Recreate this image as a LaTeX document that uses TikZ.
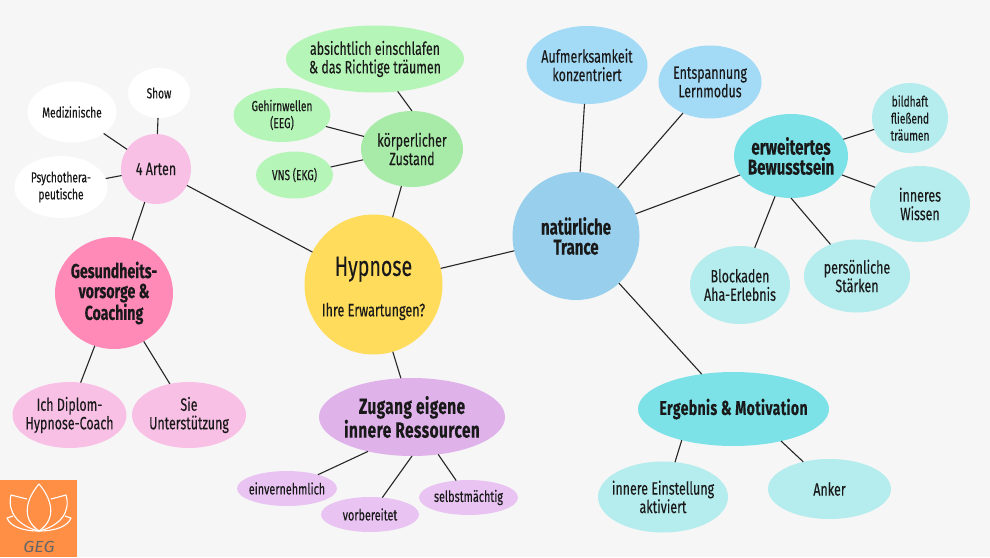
\documentclass[tikz,border=0pt]{standalone}
\usepackage{fontspec}
\setmainfont[FakeStretch=0.7,FakeBold=0.25]{Fira Sans}
\newfontfamily\gegfont[FakeStretch=1.1]{Fira Sans}
\usetikzlibrary{shapes.geometric}
\definecolor{bgc}{HTML}{F6F6F6}
\definecolor{yel}{HTML}{FFDC5C}
\definecolor{tra}{HTML}{97CFEC}
\definecolor{blu}{HTML}{A3DBF7}
\definecolor{tea}{HTML}{7DE2E8}
\definecolor{lte}{HTML}{B5ECEE}
\definecolor{grn}{HTML}{B6F5B8}
\definecolor{dgr}{HTML}{A8EBA8}
\definecolor{pnk}{HTML}{F9C0E6}
\definecolor{ros}{HTML}{FF8AB8}
\definecolor{pur}{HTML}{DFB2EA}
\definecolor{lpu}{HTML}{E9C4F3}
\definecolor{ora}{HTML}{FF8F45}
\tikzset{
  bub/.style n args={3}{ellipse,fill=#1,minimum width=#2,minimum height=#3,inner sep=-20pt,outer sep=0pt,align=center,text=black!90},
  med/.style={font=\fontsize{17.8}{18.5}\selectfont},
  sma/.style={font=\fontsize{14.5}{17}\selectfont},
  lil/.style={font=\fontsize{15.5}{19}\selectfont},
  bol/.style 2 args={font=\fontsize{#1}{20}\selectfont\bfseries\addfontfeature{LetterSpace=#2}},
  conn/.style={draw=black!85,line width=1.1pt},
  lotus/.style={draw=white,line width=1.1pt,line join=round}
}
\begin{document}
\begin{tikzpicture}[x=1pt,y=-1pt]
\fill[bgc] (0,0) rectangle (990,557);
\useasboundingbox (0,0) rectangle (990,557);

\node[bub={yel}{138pt}{140pt},font=\fontsize{18}{18}\selectfont] (hypnose) at (373.5,284.5) {\fontsize{28}{30}\selectfont\rule{0pt}{27pt}Hypnose\\[20pt]Ihre Erwartungen?};
\node[bub={tra}{127pt}{128pt},bol={21.4}{0}] (trance) at (576,236) {natürliche\\Trance};
\node[bub={dgr}{102pt}{76pt},med] (koerper) at (412,149) {körperlicher\\Zustand};
\node[bub={grn}{178pt}{67pt},med] (absicht) at (375,59) {absichtlich einschlafen\\\& das Richtige träumen};
\node[bub={grn}{97pt}{54pt},sma] (gehirn) at (282,115) {Gehirnwellen\\(EEG)};
\node[bub={grn}{77pt}{47pt},sma] (vns) at (294.5,175) {VNS (EKG)};
\node[bub={pnk}{70pt}{70pt},med] (arten) at (156,169) {4 Arten};
\node[bub={white}{62pt}{50pt},sma] (show) at (159,93) {Show};
\node[bub={white}{89pt}{61pt},sma] (medizin) at (72,112) {Medizinische};
\node[bub={white}{93pt}{62pt},sma] (psycho) at (61,187) {Psychothera-\\peutische};
\node[bub={ros}{118pt}{112pt},bol={20.2}{0}] (gesund) at (114,293) {Gesundheits-\\vorsorge \&\\Coaching};
\node[bub={pnk}{114pt}{66pt},med] (diplom) at (69.5,415) {Ich Diplom-\\Hypnose-Coach};
\node[bub={pnk}{114pt}{66pt},med] (sie) at (189,415) {Sie\\Unterstützung};
\node[bub={pur}{186pt}{78pt},bol={22}{2}] (zugang) at (412,417) {Zugang eigene\\innere Ressourcen};
\node[bub={lpu}{100pt}{35pt},lil] (einver) at (287,488.5) {einvernehmlich};
\node[bub={lpu}{98pt}{35pt},lil] (vorb) at (370,514.5) {vorbereitet};
\node[bub={lpu}{99pt}{35pt},lil] (selbst) at (468.5,497.5) {selbstmächtig};
\node[bub={blu}{121pt}{78pt},med] (aufm) at (587,65) {Aufmerksamkeit\\konzentriert};
\node[bub={blu}{103pt}{73pt},med] (entsp) at (710,82) {Entspannung\\Lernmodus};
\node[bub={tea}{114pt}{84pt},bol={21.5}{0}] (erw) at (791,156) {erweitertes\\Bewusstsein};
\node[bub={lte}{76pt}{70pt},sma] (bild) at (910,118) {bildhaft\\fließend\\träumen};
\node[bub={lte}{100pt}{76pt},med] (inneres) at (920,204) {inneres\\Wissen};
\node[bub={lte}{100pt}{78pt},med] (block) at (740,285) {Blockaden\\Aha-Erlebnis};
\node[bub={lte}{106pt}{73pt},med] (pers) at (857,276) {persönliche\\Stärken};
\node[bub={tea}{191pt}{74pt},bol={20}{2}] (ergeb) at (733.5,409) {Ergebnis \& Motivation};
\node[bub={lte}{130pt}{71pt},med] (einst) at (663,497) {innere Einstellung\\aktiviert};
\node[bub={lte}{123pt}{60pt},med] (anker) at (829.5,489) {Anker};

\draw[conn] (arten) -- (hypnose);
\draw[conn] (hypnose) -- (trance);
\draw[conn] (hypnose) -- (koerper);
\draw[conn] (hypnose.-74) -- (zugang.106);
\draw[conn] (koerper.90) -- (absicht.-55);
\draw[conn] (koerper) -- (gehirn);
\draw[conn] (koerper) -- (vns);
\draw[conn] (arten) -- (show);
\draw[conn] (arten) -- (medizin);
\draw[conn] (arten) -- (psycho);
\draw[conn] (arten) -- (gesund);
\draw[conn] (gesund.250) -- (diplom.71);
\draw[conn] (gesund) -- (sie);
\draw[conn] (zugang.218) -- (einver.24);
\draw[conn] (zugang.-90) -- (vorb.54);
\draw[conn] (zugang.-55) -- (selbst.126);
\draw[conn] (trance) -- (aufm);
\draw[conn] (trance) -- (entsp);
\draw[conn] (trance) -- (erw);
\draw[conn] (trance) -- (ergeb);
\draw[conn] (erw) -- (bild);
\draw[conn] (erw) -- (inneres);
\draw[conn] (erw) -- (block);
\draw[conn] (erw.-90) -- (pers.130);
\draw[conn] (ergeb.211) -- (einst.71);
\draw[conn] (ergeb.-34) -- (anker.134);

\fill[ora] (0,480) rectangle (77,557);
\draw[lotus] (39,531) .. controls (20,518) and (27,498) .. (39,484) .. controls (51,498) and (58,518) .. (39,531);
\draw[lotus] (39,531) .. controls (18,526) and (7,512) .. (11,495) -- (27,499);
\draw[lotus] (39,531) .. controls (60,526) and (71,512) .. (66,495) -- (51,499);
\draw[lotus] (39,531) .. controls (22,531) and (10,526) .. (7,518) -- (13,516);
\draw[lotus] (39,531) .. controls (56,531) and (68,526) .. (71,518) -- (65,516);
\node[text=black!60,font=\gegfont\fontsize{16}{16}\selectfont\itshape,inner sep=0pt] (geg) at (39,547) {GEG};
\end{tikzpicture}
\end{document}
